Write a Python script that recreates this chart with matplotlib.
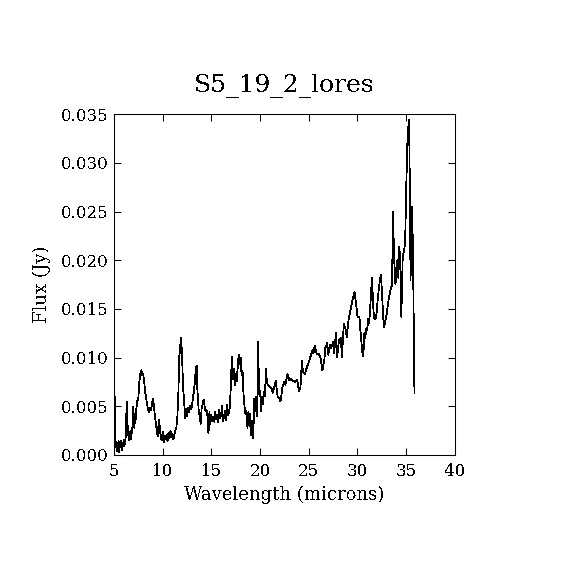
import matplotlib
matplotlib.use("Agg")
import matplotlib.pyplot as plt
from matplotlib.ticker import MultipleLocator, FormatStrFormatter

title = "S5_19_2_lores"
x_label = "Wavelength (microns)"
y_label = "Flux (Jy)"

wavelength = [
    5.05, 5.1, 5.15, 5.2, 5.3, 5.35, 5.4, 5.5, 5.55, 5.6, 5.7, 5.75, 5.8, 5.9,
    6.0, 6.05, 6.1, 6.2, 6.25, 6.3, 6.35, 6.4, 6.45, 6.5, 6.55, 6.6, 6.65, 6.7,
    6.75, 6.8, 6.85, 6.9, 6.95, 7.0, 7.05, 7.1, 7.15, 7.2, 7.3, 7.4, 7.5, 7.6,
    7.7, 7.8, 7.9, 8.0, 8.1, 8.2, 8.3, 8.4, 8.5, 8.6, 8.7, 8.8, 8.9, 9.0, 9.1,
    9.2, 9.3, 9.4, 9.5, 9.6, 9.65, 9.7, 9.8, 9.9, 10.0, 10.1, 10.2, 10.3, 10.4,
    10.5, 10.6, 10.7, 10.8, 10.9, 11.0, 11.1, 11.2, 11.3, 11.4, 11.5, 11.6,
    11.7, 11.8, 11.9, 12.0, 12.1, 12.2, 12.3, 12.4, 12.5, 12.6, 12.7, 12.8,
    12.9, 13.0, 13.1, 13.2, 13.3, 13.4, 13.5, 13.55, 13.6, 13.7, 13.8, 13.9,
    14.0, 14.1, 14.2, 14.3, 14.4, 14.5, 14.6, 14.7, 14.8, 14.9, 15.0, 15.1,
    15.2, 15.3, 15.4, 15.5, 15.6, 15.7, 15.8, 15.9, 16.0, 16.1, 16.2, 16.3,
    16.4, 16.5, 16.6, 16.7, 16.8, 16.9, 17.0, 17.1, 17.2, 17.3, 17.4, 17.5,
    17.6, 17.7, 17.8, 17.9, 18.0, 18.1, 18.2, 18.3, 18.4, 18.5, 18.6, 18.7,
    18.8, 18.9, 19.0, 19.1, 19.2, 19.3, 19.4, 19.5, 19.6, 19.7, 19.8, 19.9,
    20.0, 20.1, 20.2, 20.3, 20.4, 20.5, 20.6, 20.7, 20.8, 21.0, 21.2, 21.3,
    21.5, 21.6, 21.8, 22.0, 22.1, 22.3, 22.5, 22.6, 22.8, 23.0, 23.2, 23.4,
    23.6, 23.8, 24.0, 24.15, 24.3, 24.4, 24.6, 24.8, 25.0, 25.2, 25.4, 25.5,
    25.6, 25.8, 26.0, 26.2, 26.4, 26.6, 26.7, 26.9, 27.0, 27.2, 27.3, 27.5,
    27.6, 27.8, 27.9, 28.1, 28.3, 28.4, 28.6, 28.8, 28.9, 29.1, 29.3, 29.5,
    29.7, 29.9, 30.0, 30.2, 30.3, 30.5, 30.6, 30.7, 30.8, 30.9, 31.0, 31.1,
    31.2, 31.3, 31.4, 31.5, 31.6, 31.7, 31.9, 32.0, 32.1, 32.3, 32.4, 32.5,
    32.6, 32.7, 32.8, 33.0, 33.2, 33.4, 33.55, 33.65, 33.75, 33.9, 34.0, 34.1,
    34.2, 34.3, 34.4, 34.5, 34.65, 34.8, 34.9, 35.0, 35.15, 35.3, 35.35, 35.45,
    35.6, 35.7, 35.85,
]

flux = [
    0.0074, 0.0025, 0.0008, 0.0013, 0.0004, 0.0012, 0.0006, 0.0014, 0.0003,
    0.0011, 0.0008, 0.0015, 0.0005, 0.0012, 0.0009, 0.0016, 0.0011, 0.0018,
    0.0035, 0.0052, 0.0055, 0.0030, 0.0020, 0.0024, 0.0015, 0.0022, 0.0017,
    0.0025, 0.0016, 0.0021, 0.0028, 0.0022, 0.0049, 0.0033, 0.0038, 0.0028,
    0.0042, 0.0033, 0.0048, 0.0056, 0.0058, 0.0075, 0.0083, 0.0087, 0.0082,
    0.0083, 0.0075, 0.0065, 0.0058, 0.0052, 0.0046, 0.0044, 0.0048, 0.0046,
    0.0052, 0.0058, 0.0050, 0.0040, 0.0032, 0.0024, 0.0019, 0.0036, 0.0022,
    0.0030, 0.0018, 0.0015, 0.0024, 0.0013, 0.0020, 0.0016, 0.0021, 0.0014,
    0.0023, 0.0017, 0.0025, 0.0018, 0.0022, 0.0016, 0.0021, 0.0025, 0.0028,
    0.0038, 0.0060, 0.0100, 0.0112, 0.0120, 0.0098, 0.0068, 0.0055, 0.0038,
    0.0047, 0.0040, 0.0048, 0.0044, 0.0050, 0.0047, 0.0050, 0.0058, 0.0065,
    0.0075, 0.0088, 0.0092, 0.0070, 0.0060, 0.0045, 0.0040, 0.0032, 0.0048,
    0.0052, 0.0057, 0.0050, 0.0045, 0.0046, 0.0040, 0.0022, 0.0044, 0.0032,
    0.0041, 0.0035, 0.0039, 0.0034, 0.0044, 0.0037, 0.0041, 0.0034, 0.0046,
    0.0038, 0.0042, 0.0050, 0.0035, 0.0040, 0.0045, 0.0036, 0.0051, 0.0041,
    0.0043, 0.0050, 0.0072, 0.0101, 0.0078, 0.0088, 0.0072, 0.0083, 0.0076,
    0.0090, 0.0103, 0.0093, 0.0100, 0.0082, 0.0086, 0.0062, 0.0050, 0.0042,
    0.0045, 0.0028, 0.0044, 0.0030, 0.0042, 0.0020, 0.0035, 0.0017, 0.0058,
    0.0045, 0.0060, 0.0040, 0.0116, 0.0062, 0.0066, 0.0045, 0.0060, 0.0052,
    0.0065, 0.0060, 0.0088, 0.0075, 0.0072, 0.0070, 0.0068, 0.0064, 0.0072,
    0.0076, 0.0060, 0.0058, 0.0055, 0.0070, 0.0075, 0.0072, 0.0083, 0.0077,
    0.0078, 0.0076, 0.0075, 0.0077, 0.0066, 0.0070, 0.0097, 0.0085, 0.0083,
    0.0090, 0.0095, 0.0102, 0.0108, 0.0105, 0.0112, 0.0104, 0.0104, 0.0100,
    0.0087, 0.0098, 0.0110, 0.0115, 0.0103, 0.0113, 0.0110, 0.0116, 0.0105,
    0.0125, 0.0100, 0.0118, 0.0120, 0.0100, 0.0135, 0.0128, 0.0121, 0.0140,
    0.0150, 0.0160, 0.0167, 0.0152, 0.0142, 0.0142, 0.0128, 0.0105, 0.0101,
    0.0125, 0.0120, 0.0130, 0.0128, 0.0140, 0.0135, 0.0150, 0.0168, 0.0182,
    0.0155, 0.0140, 0.0140, 0.0150, 0.0162, 0.0180, 0.0185, 0.0170, 0.0150,
    0.0131, 0.0135, 0.0145, 0.0160, 0.0170, 0.0175, 0.0250, 0.0205, 0.0175,
    0.0190, 0.0200, 0.0182, 0.0214, 0.0195, 0.0142, 0.0205, 0.0210, 0.0220,
    0.0272, 0.0330, 0.0344, 0.0300, 0.0180, 0.0255, 0.0209, 0.0064,
]

plt.rcParams["font.family"] = ["DejaVu Serif"]
plt.rcParams["text.antialiased"] = False

fig = plt.figure(figsize=(5.7, 5.7), dpi=100)
ax = fig.add_axes([0.2, 0.2018, 0.598, 0.598])

ax.plot(wavelength, flux, color="black", linewidth=0.55, antialiased=False)

ax.set_xlim(5, 40)
ax.set_ylim(0, 0.035)
ax.xaxis.set_major_locator(MultipleLocator(5))
ax.yaxis.set_major_locator(MultipleLocator(0.005))
ax.yaxis.set_major_formatter(FormatStrFormatter("%.3f"))
ax.tick_params(direction="in", top=True, right=True, length=5, width=0.75,
               labelsize=12)
ax.tick_params(axis="x", pad=6)
ax.tick_params(axis="y", pad=4)
for spine in ax.spines.values():
    spine.set_linewidth(0.75)

ax.set_xlabel(x_label, fontsize=13, labelpad=4)
ax.set_ylabel(y_label, fontsize=13, labelpad=7)
ax.set_title(title, fontsize=18, pad=16)

fig.savefig("out.png", dpi=100)
